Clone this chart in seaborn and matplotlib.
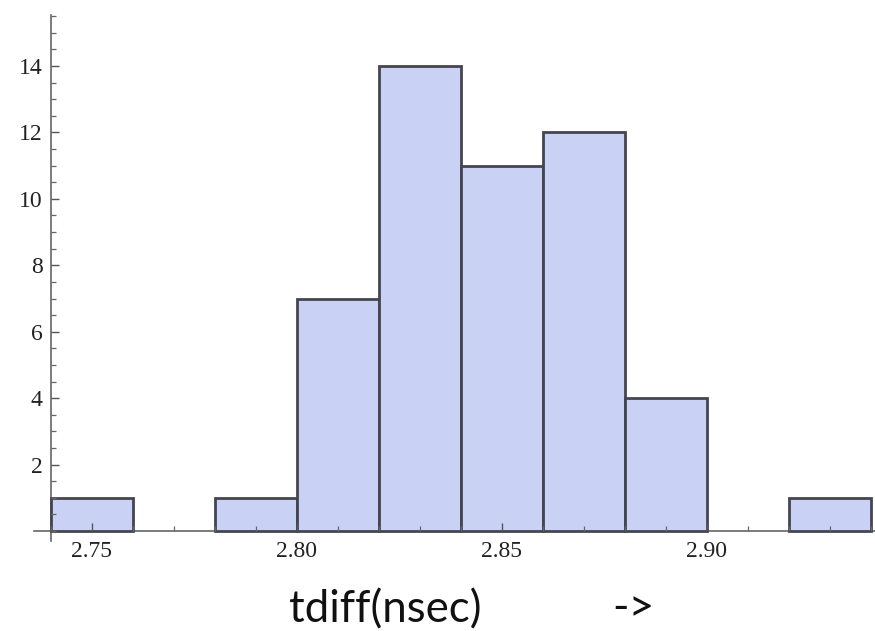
import numpy as np
import pandas as pd
import matplotlib
matplotlib.use("Agg")
import matplotlib.pyplot as plt
from matplotlib.ticker import MultipleLocator, FormatStrFormatter
import seaborn as sns

# Histogram of time differences, bins of 0.02 ns
bin_edges = [2.74, 2.76, 2.78, 2.80, 2.82, 2.84, 2.86, 2.88, 2.90, 2.92, 2.94]
bin_centers = [2.75, 2.77, 2.79, 2.81, 2.83, 2.85, 2.87, 2.89, 2.91, 2.93]
counts = [1, 0, 1, 7, 14, 11, 12, 4, 0, 1]
x_ticks = [2.75, 2.80, 2.85, 2.90]
y_ticks = [2, 4, 6, 8, 10, 12, 14]

df = pd.DataFrame({"tdiff": bin_centers, "count": counts})

sns.set_theme(style="white")
plt.rcParams["font.family"] = ["Liberation Serif", "DejaVu Serif"]

fig = plt.figure(figsize=(8.75, 6.31), dpi=100)
W, H = 875, 631
ax = fig.add_axes([34 / W, 90 / H, (875 - 34) / W, (541 - 15) / H])

sns.histplot(
    data=df, x="tdiff", weights="count", bins=bin_edges, ax=ax,
    color="#c9d1f5", alpha=1.0, edgecolor="#45454f", linewidth=2.0,
)
# empty bins leave no outline on the axis
for p in list(ax.patches):
    if p.get_height() == 0:
        p.remove()

px_per_x = 4100.0
x0 = 2.74
ax.set_xlim(x0 - 17 / px_per_x, x0 + (875 - 51) / px_per_x)
px_per_y = (531 - 66) / 14.0
ax.set_ylim(-10 / px_per_y, (531 - 15) / px_per_y)

# tick marks stay visible on top of the bars
ax.set_axisbelow(False)

for s in ("top", "right"):
    ax.spines[s].set_visible(False)
ax.spines["left"].set_position(("data", x0))
ax.spines["bottom"].set_position(("data", 0))
for s in ("left", "bottom"):
    ax.spines[s].set_color("#666666")
    ax.spines[s].set_linewidth(1.2)
    ax.spines[s].set_zorder(0.5)

ax.set_xticks(x_ticks)
ax.xaxis.set_major_formatter(FormatStrFormatter("%.2f"))
ax.xaxis.set_minor_locator(MultipleLocator(0.01))
ax.set_yticks(y_ticks)
ax.yaxis.set_minor_locator(MultipleLocator(0.5))

ax.tick_params(axis="both", which="major", direction="in", length=6,
               width=1.0, color="#555555", labelsize=17, labelcolor="#222222",
               bottom=True, left=True)
ax.tick_params(axis="both", which="minor", direction="in", length=3.5,
               width=0.9, color="#666666", bottom=True, left=True)
ax.tick_params(axis="x", which="major", pad=7)
ax.tick_params(axis="y", which="major", pad=6)

ax.set_xlabel("")
ax.set_ylabel("")
ax.grid(False)

fig.text(385 / W, 1 - 622 / H, "tdiff(nsec)", family=["Lato", "DejaVu Sans"],
         fontsize=31.5, color="#111111", ha="center", va="baseline")
fig.text(633 / W, 1 - 621 / H, "->", family=["Lato", "DejaVu Sans"],
         fontsize=32, color="#111111", ha="center", va="baseline")

fig.savefig("out.png", dpi=100)
